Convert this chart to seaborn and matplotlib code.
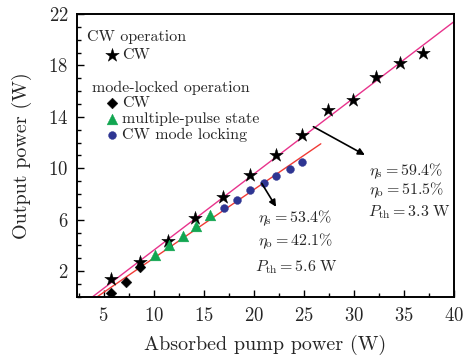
import matplotlib
matplotlib.use("Agg")
import matplotlib.pyplot as plt
import seaborn as sns
import pandas as pd

# ---- data ----
cw_x = [5.7, 8.6, 11.4, 14.1, 16.9, 19.6, 22.2, 24.8, 27.4, 29.9, 32.2, 34.6, 36.9]
cw_y = [1.35, 2.7, 4.35, 6.1, 7.8, 9.5, 11.0, 12.6, 14.5, 15.3, 17.1, 18.2, 19.0]

ml_cw_x = [5.7, 7.2, 8.6]
ml_cw_y = [0.3, 1.15, 2.35]

mp_x = [10.1, 11.5, 12.9, 14.2, 15.6]
mp_y = [3.25, 4.0, 4.7, 5.5, 6.35]

cwml_x = [17.0, 18.3, 19.6, 21.0, 22.2, 23.6, 24.8]
cwml_y = [6.9, 7.55, 8.3, 8.85, 9.4, 9.95, 10.5]

fit_cw_x = [3.9, 40.0]
fit_cw_y = [0.0, 21.4]
fit_ml_x = [4.36, 26.7]
fit_ml_y = [0.0, 11.9]

x_ticks = [5, 10, 15, 20, 25, 30, 35, 40]
y_ticks = [2, 6, 10, 14, 18, 22]

sns.set_theme(style="ticks")
plt.rcParams["font.family"] = ["cmr10", "DejaVu Serif"]
plt.rcParams["mathtext.fontset"] = "cm"
plt.rcParams["axes.formatter.use_mathtext"] = True

fig = plt.figure(figsize=(4.67, 3.58), dpi=100)
ax = fig.add_axes([0.164, 0.171, 0.808, 0.790])

pink = "#e8338c"
red = "#f03a35"
green = "#12a651"
blue = "#2e3592"

sns.lineplot(x=fit_cw_x, y=fit_cw_y, color=pink, lw=1.0, ax=ax)
sns.lineplot(x=fit_ml_x, y=fit_ml_y, color=red, lw=1.0, ax=ax)

sns.scatterplot(x=cw_x, y=cw_y, marker="*", s=105, color="black",
                edgecolor="black", linewidth=0.3, ax=ax, zorder=3)
h_star = ax.collections[-1]
sns.scatterplot(x=ml_cw_x, y=ml_cw_y, marker="D", s=30, color="black",
                edgecolor="black", linewidth=0.3, ax=ax, zorder=3)
h_dia = ax.collections[-1]
sns.scatterplot(x=mp_x, y=mp_y, marker="^", s=60, color=green,
                edgecolor=green, linewidth=0.3, ax=ax, zorder=3)
h_tri = ax.collections[-1]
sns.scatterplot(x=cwml_x, y=cwml_y, marker="o", s=32, color=blue,
                edgecolor=blue, linewidth=0.3, ax=ax, zorder=3)
h_cir = ax.collections[-1]

ax.set_xlim(2.3, 40)
ax.set_ylim(0, 22)
ax.set_xticks(x_ticks)
ax.set_yticks(y_ticks)
ax.set_xticks([2.5 + 2.5 * i for i in range(16)], minor=True)
ax.set_yticks(list(range(0, 23)), minor=True)
ax.tick_params(which="both", direction="in", top=False, right=False,
               labelsize=13.5, color="black", width=1.0)
ax.tick_params(axis="x", which="major", length=5, pad=7)
ax.tick_params(axis="y", which="major", length=5, pad=6)
ax.tick_params(which="minor", length=3)
for sp in ax.spines.values():
    sp.set_visible(True)
    sp.set_linewidth(1.4)
    sp.set_color("black")

ax.set_xlabel("Absorbed pump power (W)", fontsize=14.5)
ax.set_ylabel("Output power (W)", fontsize=14.5)
ax.xaxis.set_label_coords(0.5, -0.135)
ax.yaxis.set_label_coords(-0.118, 0.5)

# legend-like block
fs_l = 11.5
ax.text(0.0265, 0.92, "CW operation", transform=ax.transAxes, fontsize=fs_l,
        ha="left", va="center")
ax.text(0.0398, 0.737, "mode-locked operation", transform=ax.transAxes,
        fontsize=fs_l, ha="left", va="center")
leg1 = ax.legend([h_star], ["CW"], loc="center left",
                 bbox_to_anchor=(0.073, 0.855), frameon=False, fontsize=fs_l,
                 borderpad=0, handlelength=1.0, handletextpad=0.1,
                 borderaxespad=0)
ax.add_artist(leg1)
ax.legend([h_dia, h_tri, h_cir], ["CW", "multiple-pulse state", "CW mode locking"],
          loc="upper left", bbox_to_anchor=(0.073, 0.71), frameon=False,
          fontsize=fs_l, borderpad=0, handlelength=1.0, handletextpad=0.1,
          labelspacing=0.1, borderaxespad=0)

# annotations
ax.annotate("", xy=(31.1, 11.03), xytext=(25.96, 13.23),
            arrowprops=dict(arrowstyle="-|>", color="black", lw=1.2,
                            mutation_scale=10, shrinkA=0, shrinkB=0))
ax.annotate("", xy=(22.23, 7.0), xytext=(20.8, 8.82),
            arrowprops=dict(arrowstyle="-|>", color="black", lw=1.2,
                            mutation_scale=10, shrinkA=0, shrinkB=0))

fs_a = 11.5
ax.text(31.56, 9.73, r"$\eta_{\rm s} = 59.4\%$", fontsize=fs_a, ha="left", va="center")
ax.text(31.56, 8.30, r"$\eta_{\rm o} = 51.5\%$", fontsize=fs_a, ha="left", va="center")
ax.text(31.46, 6.61, r"$P_{\rm th} = 3.3\ {\rm W}$", fontsize=fs_a, ha="left", va="center")
ax.text(20.46, 6.10, r"$\eta_{\rm s} = 53.4\%$", fontsize=fs_a, ha="left", va="center")
ax.text(20.46, 4.28, r"$\eta_{\rm o} = 42.1\%$", fontsize=fs_a, ha="left", va="center")
ax.text(20.13, 2.33, r"$P_{\rm th} = 5.6\ {\rm W}$", fontsize=fs_a, ha="left", va="center")

fig.savefig("out.png", dpi=100)
